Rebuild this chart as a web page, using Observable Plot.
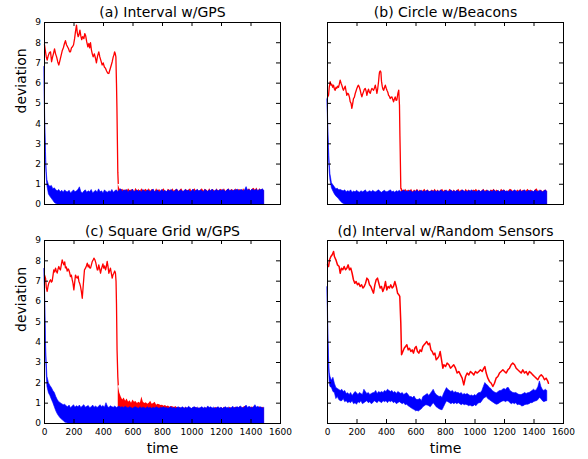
<!DOCTYPE html>
<html><head><meta charset="utf-8">
<script src="https://cdn.jsdelivr.net/npm/d3@7"></script>
<script src="https://cdn.jsdelivr.net/npm/@observablehq/plot@0.6"></script>
<style>
html,body{margin:0;padding:0;background:#fff;}
#chart{position:relative;width:588px;height:459px;overflow:hidden;background:#fff;}
#chart svg{position:absolute;}
</style></head><body><div id="chart"></div>
<script>
// ---------- tick labels & texts ----------
const X_TICKS = [0,200,400,600,800,1000,1200,1400,1600];
const Y_TICKS = [0,1,2,3,4,5,6,7,8,9];
const TITLES = ["(a) Interval w/GPS","(b) Circle w/Beacons","(c) Square Grid w/GPS","(d) Interval w/Random Sensors"];
const Y_LABEL = "deviation";
const X_LABEL = "time";

// ---------- sample grids (time) ----------
const BAND_T = [0,3,6,10,15,20].concat(d3.range(30,1500,10));   // 153 samples
const RED_BAND_T = d3.range(500,1500,10);                          // 100 samples

// ---------- (a) Interval w/GPS ----------
const A_RED = [[0,7.9],[7,7.55],[12,7.3],[18,7.14],[25,7.35],[33,7.5],[41,7.55],[48,7.06],[55,7.3],[62,7.5],[68,7.7],[75,7.45],[82,7.3],[90,7.05],[97,6.9],[104,7.1],[112,7.35],[120,7.6],[128,7.75],[135,7.95],[142,8.1],[149,7.9],[156,7.8],[163,7.7],[170,7.55],[176,7.55],[183,7.75],[190,7.8],[197,7.9],[204,8.2],[210,8.55],[217,8.87],[222,8.5],[228,8.3],[233,8.37],[240,8.62],[246,8.35],[252,8.15],[259,8.3],[267,8.2],[273,8.45],[279,8.35],[286,8.05],[294,7.8],[301,7.96],[306,7.75],[312,8.0],[318,7.65],[324,7.45],[330,7.3],[338,7.45],[346,7.22],[352,7.0],[360,7.35],[368,7.55],[375,7.3],[383,7.1],[391,6.9],[398,7.0],[406,6.8],[414,6.73],[421,6.6],[428,6.5],[436,6.48],[441,6.6],[447,6.75],[453,6.9],[459,7.06],[466,7.3],[471,7.4],[475,7.55],[480,7.45],[484,7.3],[488,6.0],[491,4.8],[494,3.2],[497,1.6],[500,1.04]];
const A_RED_BAND = [
0.99,0.78,0.7,0.76,0.66,0.74,0.64,0.78,0.68,0.72,
0.74,0.62,0.8,0.66,0.74,0.64,0.78,0.68,0.7,0.76,
0.64,0.78,0.66,0.74,0.7,0.62,0.78,0.66,0.74,0.64,
0.7,0.78,0.66,0.62,0.76,0.7,0.64,0.78,0.66,0.72,
0.76,0.64,0.7,0.78,0.66,0.62,0.76,0.68,0.7,0.78,
0.64,0.7,0.78,0.66,0.74,0.62,0.7,0.78,0.66,0.76,
0.7,0.64,0.78,0.66,0.74,0.7,0.62,0.78,0.66,0.72,
0.76,0.66,0.78,0.64,0.7,0.78,0.66,0.74,0.7,0.64,
0.78,0.66,0.74,0.7,0.64,0.78,0.66,0.76,0.7,0.78,
0.66,0.76,0.8,0.7,0.82,0.66,0.78,0.7,0.76,0.66];
const A_BLUE_HI = [6.8,5.0,3.8,2.6,1.6,1.2,
0.95,0.88,0.92,0.75,0.8,0.7,0.65,0.72,0.6,0.68,
0.58,0.7,0.62,0.6,0.68,0.55,0.62,0.7,0.6,0.65,
0.72,0.85,0.6,0.55,0.64,0.7,0.58,0.65,0.6,0.72,
0.55,0.62,0.68,0.58,0.75,0.6,0.65,0.55,0.7,0.62,
0.58,0.66,0.6,0.72,0.58,0.65,0.7,0.62,0.68,0.75,
0.6,0.7,0.65,0.72,0.58,0.68,0.62,0.74,0.6,0.66,
0.7,0.62,0.68,0.58,0.72,0.65,0.6,0.7,0.66,0.62,
0.68,0.74,0.6,0.65,0.7,0.58,0.66,0.72,0.62,0.68,
0.6,0.7,0.64,0.72,0.66,0.6,0.68,0.74,0.62,0.66,
0.7,0.6,0.68,0.72,0.64,0.7,0.6,0.66,0.74,0.62,
0.68,0.72,0.64,0.7,0.66,0.6,0.72,0.68,0.62,0.7,
0.66,0.74,0.62,0.68,0.72,0.64,0.7,0.66,0.72,0.68,
0.62,0.7,0.74,0.66,0.7,0.64,0.72,0.68,0.74,0.66,
0.7,0.72,0.64,0.7,0.86,0.68,0.72,0.66,0.74,0.7,
0.68,0.74,0.66,0.72,0.7,0.75,0.68];
const A_BLUE_LO = [6.8,4.4,3.2,2.2,1.3,0.9,
0.5,0.38,0.28,0.18,0.08,0.03,0,0,0,0,
0,0,0,0,0,0,0,0,0,0, 0,0,0,0,0,0,0,0,0,0, 0,0,0,0,0,0,0,0,0,0,
0,0,0,0,0,0,0,0,0,0, 0,0,0,0,0,0,0,0,0,0, 0,0,0,0,0,0,0,0,0,0,
0,0,0,0,0,0,0,0,0,0, 0,0,0,0,0,0,0,0,0,0, 0,0,0,0,0,0,0,0,0,0,
0,0,0,0,0,0,0,0,0,0, 0,0,0,0,0,0,0,0,0,0, 0,0,0,0,0,0,0,0,0,0,
0,0,0,0,0,0,0,0,0,0, 0,0,0,0,0,0,0];

// ---------- (b) Circle w/Beacons ----------
const B_RED = [[0,5.3],[7,5.4],[12,5.8],[18,6.07],[24,5.9],[29,5.95],[35,5.8],[41,5.9],[47,5.7],[52,5.65],[58,5.8],[63,5.75],[69,5.85],[75,5.8],[80,5.95],[86,6.15],[92,6.0],[97,5.9],[103,5.75],[108,5.65],[114,5.75],[120,5.85],[126,5.6],[131,5.4],[137,5.5],[143,5.45],[149,5.3],[154,5.08],[160,5.0],[165,4.75],[170,4.95],[176,5.24],[182,5.3],[188,5.49],[193,5.6],[199,5.74],[205,5.85],[210,5.9],[216,5.8],[222,5.65],[228,5.45],[233,5.32],[238,5.45],[244,5.57],[250,5.7],[256,5.74],[262,5.6],[267,5.4],[273,5.6],[278,5.7],[284,5.55],[290,5.5],[296,5.65],[301,5.74],[307,5.7],[312,5.65],[318,5.75],[324,5.9],[330,5.7],[335,5.5],[340,5.7],[346,6.07],[350,6.4],[353,6.56],[358,6.6],[362,6.55],[366,6.1],[371,5.85],[376,5.7],[381,5.65],[387,5.8],[392,5.9],[398,5.75],[403,5.65],[409,5.55],[414,5.4],[420,5.35],[425,5.24],[431,5.3],[437,5.32],[442,5.2],[448,5.08],[453,5.2],[459,5.32],[465,5.15],[470,5.16],[474,5.35],[477,5.49],[483,5.65],[488,4.9],[491,3.4],[493,2.6],[497,0.8],[500,0.78]];
const B_RED_BAND = [
0.8,0.72,0.66,0.76,0.64,0.72,0.66,0.76,0.62,0.72,
0.66,0.76,0.64,0.72,0.62,0.68,0.76,0.64,0.72,0.66,
0.62,0.72,0.66,0.76,0.64,0.72,0.62,0.68,0.76,0.64,
0.72,0.66,0.62,0.76,0.68,0.64,0.72,0.62,0.68,0.76,
0.64,0.72,0.68,0.62,0.76,0.66,0.72,0.64,0.62,0.72,
0.68,0.76,0.64,0.72,0.62,0.68,0.76,0.64,0.72,0.66,
0.62,0.72,0.68,0.76,0.64,0.72,0.66,0.62,0.76,0.68,
0.72,0.64,0.62,0.68,0.76,0.72,0.64,0.68,0.62,0.72,
0.66,0.76,0.64,0.72,0.62,0.68,0.76,0.64,0.72,0.66,
0.62,0.72,0.78,0.66,0.64,0.72,0.62,0.68,0.72,0.64];
const B_BLUE_HI = [5.2,4.6,3.6,2.8,2.0,1.5,
1.05,0.95,0.85,0.75,0.78,0.7,0.72,0.68,0.65,0.7,
0.6,0.66,0.62,0.7,0.58,0.64,0.6,0.68,0.62,0.58,
0.66,0.6,0.64,0.7,0.58,0.62,0.66,0.6,0.68,0.62,
0.6,0.66,0.7,0.62,0.58,0.64,0.68,0.6,0.62,0.66,
0.7,0.6,0.64,0.58,0.66,0.62,0.68,0.6,0.64,0.7,
0.62,0.66,0.6,0.68,0.64,0.58,0.66,0.62,0.7,0.6,
0.64,0.68,0.6,0.66,0.62,0.7,0.6,0.64,0.66,0.62,
0.68,0.6,0.66,0.62,0.7,0.64,0.6,0.66,0.68,0.62,
0.64,0.7,0.6,0.66,0.62,0.68,0.64,0.6,0.66,0.7,
0.62,0.66,0.6,0.68,0.64,0.7,0.62,0.66,0.6,0.64,
0.68,0.62,0.66,0.7,0.6,0.64,0.68,0.62,0.66,0.6,
0.7,0.64,0.62,0.68,0.6,0.66,0.64,0.7,0.62,0.66,
0.6,0.68,0.64,0.62,0.7,0.66,0.6,0.64,0.68,0.62,
0.66,0.7,0.6,0.64,0.68,0.62,0.66,0.6,0.7,0.64,
0.62,0.68,0.66,0.6,0.64,0.7,0.62];
const B_BLUE_LO = [5.2,4.2,3.2,2.4,1.6,1.2,
0.8,0.64,0.5,0.4,0.32,0.25,0.15,0.08,0.03,0,
0,0,0,0,0,0,0,0,0,0, 0,0,0,0,0,0,0,0,0,0, 0,0,0,0,0,0,0,0,0,0,
0,0,0,0,0,0,0,0,0,0, 0,0,0,0,0,0,0,0,0,0, 0,0,0,0,0,0,0,0,0,0,
0,0,0,0,0,0,0,0,0,0, 0,0,0,0,0,0,0,0,0,0, 0,0,0,0,0,0,0,0,0,0,
0,0,0,0,0,0,0,0,0,0, 0,0,0,0,0,0,0,0,0,0, 0,0,0,0,0,0,0,0,0,0,
0,0,0,0,0,0,0,0,0,0, 0,0,0,0,0,0,0];

// ---------- (c) Square Grid w/GPS ----------
const C_RED = [[0,7.3],[7,7.15],[12,6.7],[18,6.5],[24,6.75],[29,6.9],[35,7.0],[41,7.07],[47,6.95],[52,7.0],[58,7.3],[63,7.56],[69,7.45],[75,7.64],[80,7.5],[86,7.4],[92,7.6],[97,7.72],[103,7.6],[108,7.55],[114,7.8],[120,8.05],[126,7.9],[131,7.8],[137,7.95],[142,7.65],[148,7.7],[154,7.5],[160,7.6],[165,7.55],[171,7.4],[176,7.23],[182,7.3],[188,7.07],[193,6.9],[199,6.57],[205,6.95],[210,7.3],[216,7.2],[222,7.15],[228,7.25],[233,7.0],[238,6.9],[244,6.74],[250,6.5],[256,6.16],[262,6.74],[267,7.2],[271,7.56],[278,7.64],[284,7.75],[290,7.89],[296,7.7],[301,7.8],[306,7.65],[312,7.64],[318,7.8],[324,7.97],[330,8.05],[335,8.13],[342,8.05],[348,7.9],[353,7.72],[358,7.55],[362,7.56],[368,7.8],[374,7.6],[380,7.39],[386,7.6],[391,7.72],[396,7.85],[402,7.64],[408,7.75],[414,7.56],[419,7.7],[425,7.97],[431,7.7],[436,7.39],[441,7.5],[447,7.64],[453,7.4],[459,7.15],[464,7.3],[470,7.39],[476,7.5],[481,7.4],[485,7.0],[488,5.9],[492,3.6],[497,2.3],[500,1.9]];
const C_RED_BAND = [
1.9,1.5,1.3,1.15,1.25,1.1,1.2,1.05,1.12,1.0,
1.15,1.05,1.08,0.98,1.05,1.0,1.3,1.05,0.98,1.02,
0.95,1.0,1.1,0.95,0.98,1.05,0.9,0.95,0.92,0.88,
0.9,0.85,0.88,0.82,0.86,0.8,0.84,0.82,0.78,0.84,
0.78,0.72,0.8,0.7,0.76,0.74,0.8,0.7,0.78,0.72,
0.7,0.78,0.74,0.8,0.7,0.76,0.72,0.8,0.7,0.78,
0.74,0.8,0.7,0.76,0.72,0.7,0.8,0.74,0.78,0.7,
0.78,0.72,0.8,0.7,0.76,0.74,0.8,0.72,0.7,0.78,
0.8,0.72,0.78,0.82,0.72,0.8,0.84,0.76,0.72,0.8,
0.76,0.82,0.72,0.8,0.76,0.72,0.82,0.76,0.8,0.72];
const C_BLUE_HI = [7.6,6.9,5.6,4.0,3.0,2.3,
1.98,1.85,1.74,1.6,1.5,1.3,1.15,1.05,1.0,0.95,
0.9,0.92,0.85,0.8,0.88,0.75,0.82,0.9,0.78,0.85,
0.8,0.88,0.76,0.84,0.9,0.78,0.82,0.86,0.75,0.8,
0.88,0.78,0.84,0.76,0.82,0.9,0.8,0.86,0.78,1.0,
0.82,0.76,0.85,0.8,0.78,0.84,0.76,0.8,0.82,0.78,
0.8,0.76,0.82,0.78,0.74,0.8,0.76,0.72,0.78,0.8,
0.76,0.72,0.8,0.74,0.78,0.76,0.72,0.8,0.74,0.78,
0.72,0.78,0.74,0.8,0.76,0.72,0.78,0.75,0.8,0.74,
0.78,0.72,0.76,0.8,0.74,0.78,0.72,0.76,0.8,0.74,
0.76,0.8,0.72,0.78,0.74,0.82,0.76,0.72,0.78,0.8,
0.74,0.78,0.72,0.76,0.8,0.74,0.78,0.72,0.84,0.76,
0.8,0.74,0.78,0.72,0.76,0.8,0.74,0.78,0.72,0.76,
0.8,0.74,0.78,0.72,0.76,0.82,0.74,0.78,0.8,0.76,
0.84,0.78,0.74,0.8,0.88,0.76,0.82,0.78,0.74,0.8,
0.9,0.78,0.82,0.76,0.8,0.74,0.78];
const C_BLUE_LO = [7.6,6.4,5.0,3.5,2.4,1.8,
1.49,1.35,1.17,1.0,0.8,0.6,0.45,0.34,0.25,0.18,
0.12,0.05,0.02,0,0,0,0,0,0,0,
0,0,0,0,0,0,0,0,0,0, 0,0,0,0,0,0,0,0,0,0, 0,0,0,0,0,0,0,0,0,0,
0,0,0,0,0,0,0,0,0,0, 0,0,0,0,0,0,0,0,0,0, 0,0,0,0,0,0,0,0,0,0,
0,0,0,0,0,0,0,0,0,0, 0,0,0,0,0,0,0,0,0,0, 0,0,0,0,0,0,0,0,0,0,
0,0,0,0,0,0,0,0,0,0, 0,0,0,0,0,0,0,0,0,0, 0,0,0,0,0,0,0,0,0,0,
0,0,0,0,0,0,0];

// ---------- (d) Interval w/Random Sensors ----------
const D_RED = [[0,7.8],[7,7.72],[14,8.05],[23,8.21],[32,8.3],[41,8.46],[47,8.21],[57,8.05],[68,7.8],[79,7.72],[86,7.39],[95,7.64],[104,7.56],[113,7.72],[122,7.56],[131,7.64],[140,7.8],[149,7.56],[158,7.64],[167,7.39],[176,7.07],[185,6.9],[194,6.98],[203,6.82],[212,6.9],[221,6.74],[231,6.82],[240,6.66],[249,6.74],[258,6.9],[267,7.15],[276,7.07],[285,6.82],[294,6.74],[303,6.57],[312,6.41],[321,6.82],[330,7.07],[339,7.15],[348,6.9],[357,6.66],[366,6.74],[375,6.49],[384,6.66],[393,6.98],[402,6.57],[411,6.74],[420,6.66],[429,6.82],[438,6.66],[447,6.74],[457,6.98],[466,6.74],[475,6.41],[484,6.33],[490,6.25],[497,4.93],[502,3.38],[511,3.54],[520,3.7],[529,3.79],[538,3.87],[547,3.62],[556,3.7],[565,3.54],[574,3.62],[583,3.46],[592,3.7],[601,3.79],[610,3.54],[619,3.46],[628,3.62],[637,3.54],[646,3.79],[655,3.87],[664,3.95],[673,4.03],[683,3.87],[692,3.95],[701,3.62],[710,3.54],[719,3.38],[728,3.46],[737,3.13],[746,3.21],[755,3.3],[764,3.54],[773,3.13],[782,2.72],[789,2.89],[800,2.8],[811,2.97],[823,2.89],[834,2.72],[845,2.8],[856,2.89],[868,2.72],[879,2.48],[890,2.56],[902,2.39],[913,2.23],[924,1.9],[936,2.31],[947,2.48],[958,2.39],[969,2.56],[981,2.48],[992,2.39],[1003,2.56],[1015,2.48],[1026,2.56],[1037,2.64],[1049,2.56],[1060,2.72],[1067,2.8],[1076,2.48],[1087,2.23],[1098,2.07],[1110,1.98],[1121,1.82],[1132,1.98],[1143,2.23],[1155,2.31],[1166,2.48],[1177,2.56],[1189,2.64],[1200,2.56],[1211,2.48],[1223,2.64],[1234,2.72],[1245,2.89],[1256,2.97],[1268,2.89],[1279,2.72],[1290,2.64],[1302,2.56],[1313,2.48],[1324,2.64],[1336,2.48],[1347,2.56],[1358,2.39],[1369,2.56],[1381,2.48],[1392,2.39],[1403,2.31],[1415,2.23],[1426,2.15],[1437,2.31],[1449,2.39],[1460,2.31],[1471,2.15],[1482,2.23],[1494,2.07],[1498,1.98]];
const D_BLUE_HI = [6.7,5.8,4.4,3.3,2.5,2.3,
2.1,2.25,1.95,1.75,1.7,1.65,1.6,1.66,1.55,1.6,
1.45,1.49,1.4,1.5,1.35,1.45,1.55,1.49,1.4,1.5,
1.45,1.4,1.66,1.55,1.45,1.5,1.4,1.45,1.49,1.5,
1.6,1.45,1.55,1.5,1.55,1.5,1.6,1.55,1.66,1.6,
1.55,1.6,1.5,1.55,1.45,1.55,1.5,1.45,1.5,1.4,
1.45,1.49,1.4,1.3,1.3,1.25,1.33,1.2,1.15,1.17,
1.2,1.1,1.3,1.35,1.4,1.45,1.35,1.45,1.55,1.66,
1.5,1.4,1.35,1.3,1.33,1.25,1.45,1.6,1.74,1.65,
1.6,1.55,1.6,1.5,1.55,1.5,1.5,1.45,1.5,1.4,
1.45,1.41,1.45,1.4,1.35,1.38,1.33,1.4,1.35,1.45,
1.5,1.5,1.6,1.8,1.99,1.9,1.85,1.75,1.7,1.6,
1.55,1.5,1.49,1.55,1.6,1.6,1.66,1.7,1.65,1.74,
1.74,1.6,1.55,1.5,1.49,1.5,1.45,1.41,1.4,1.41,
1.45,1.5,1.45,1.49,1.5,1.55,1.6,1.66,1.6,1.65,
1.8,2.07,1.8,1.65,1.6,1.66,1.6];
const D_BLUE_LO = [6.7,5.2,3.8,2.7,2.0,1.8,
1.75,1.55,1.5,1.2,1.3,1.15,1.1,1.1,1.2,1.05,
1.1,1.0,1.05,1.0,1.1,0.95,1.0,0.92,1.05,1.0,
1.1,0.95,1.0,1.05,1.1,1.0,1.05,0.95,1.0,1.1,
1.05,1.0,1.1,1.05,1.0,1.1,1.05,1.1,1.0,1.1,
1.05,1.1,1.0,1.05,0.95,1.0,1.05,1.0,0.95,1.0,
0.9,0.92,0.85,0.8,0.75,0.7,0.67,0.6,0.62,0.59,
0.65,0.7,0.8,0.85,0.9,0.88,0.85,0.8,0.9,1.0,
0.9,0.8,0.75,0.7,0.67,0.65,0.8,0.95,1.08,1.05,
1.0,0.95,1.0,0.95,1.0,0.95,1.0,0.95,0.9,0.95,
0.9,0.92,0.9,0.85,0.88,0.84,0.84,0.9,0.85,0.95,
1.0,1.0,1.1,1.2,1.26,1.3,1.2,1.15,1.1,1.05,
1.0,0.95,0.92,0.95,1.0,1.05,1.08,1.1,1.05,1.1,
1.08,1.0,0.95,1.0,0.95,1.0,0.9,0.92,0.9,0.84,
0.85,0.9,0.92,0.92,0.95,1.0,1.0,1.05,1.08,1.1,
1.15,1.26,1.2,1.1,1.05,1.08,1.1];

// ---------- layout ----------
const RED = "#ff0000", BLUE = "#0000ff";
const FONT = "DejaVu Sans";
const panels = [
  {title: TITLES[0], red: A_RED, redBand: A_RED_BAND, lo: A_BLUE_LO, hi: A_BLUE_HI, left: 0,   top: 0,   fh: 182, showY: true,  showX: false, tdy: -9.5, rw: 1.3},
  {title: TITLES[1], red: B_RED, redBand: B_RED_BAND, lo: B_BLUE_LO, hi: B_BLUE_HI, left: 283, top: 0,   fh: 182, showY: false, showX: false, tdy: -9.5, rw: 1.3},
  {title: TITLES[2], red: C_RED, redBand: C_RED_BAND, lo: C_BLUE_LO, hi: C_BLUE_HI, left: 0,   top: 218, fh: 183, showY: true,  showX: true,  tdy: -8.5, rw: 1.3},
  {title: TITLES[3], red: D_RED, redBand: null,       lo: D_BLUE_LO, hi: D_BLUE_HI, left: 283, top: 218, fh: 183, showY: false, showX: true,  tdy: -8.5, rw: 1.5}
];

const chart = document.getElementById("chart");
for (const p of panels) {
  const FW = 236, ml = 44, mr = 14, mt = 22, mb = p.showX ? 36 : 8;
  const band = BAND_T.map((t, i) => ({t, lo: p.lo[i], hi: p.hi[i]}));
  const marks = [];
  if (p.redBand) {
    const rb = RED_BAND_T.map((t, i) => ({t, hi: p.redBand[i]}));
    marks.push(Plot.areaY(rb, {x: "t", y: "hi", fill: RED}));
  }
  marks.push(Plot.line(p.red, {x: d => d[0], y: d => d[1], stroke: RED, strokeWidth: p.rw}));
  marks.push(Plot.areaY(band, {x: "t", y1: "lo", y2: "hi", fill: BLUE, stroke: BLUE, strokeWidth: 0.6}));
  // inward ticks on all four sides
  marks.push(Plot.tickY(Y_TICKS, {y: d => d, stroke: "#000", insetRight: FW - 4}));
  marks.push(Plot.tickY(Y_TICKS, {y: d => d, stroke: "#000", insetLeft: FW - 4}));
  marks.push(Plot.tickX(X_TICKS, {x: d => d, stroke: "#000", insetTop: p.fh - 4}));
  marks.push(Plot.tickX(X_TICKS, {x: d => d, stroke: "#000", insetBottom: p.fh - 4}));
  if (p.showY) {
    marks.push(Plot.axisY(Y_TICKS, {anchor: "left", tickSize: 0, tickPadding: 3.5, fontSize: 9, label: null, tickFormat: d => `${d}`}));
    marks.push(Plot.text([Y_LABEL], {text: d => d, frameAnchor: "left", lineAnchor: "middle", rotate: -90, dx: -22.5, fontSize: 14, fill: "#000"}));
  }
  if (p.showX) {
    marks.push(Plot.axisX(X_TICKS, {anchor: "bottom", tickSize: 0, tickPadding: 5.5, fontSize: 9, label: null, tickFormat: d => `${d}`}));
    marks.push(Plot.text([X_LABEL], {text: d => d, frameAnchor: "bottom", lineAnchor: "middle", dy: 25.5, fontSize: 14, fill: "#000"}));
  }
  marks.push(Plot.text([p.title], {text: d => d, frameAnchor: "top", lineAnchor: "middle", dy: p.tdy, fontSize: 14, fill: "#000"}));
  marks.push(Plot.frame({stroke: "#000", strokeWidth: 1}));

  const svg = Plot.plot({
    width: ml + FW + mr,
    height: mt + p.fh + mb,
    marginLeft: ml, marginRight: mr, marginTop: mt, marginBottom: mb,
    x: {domain: [0, 1600], axis: null},
    y: {domain: [0, 9], axis: null},
    style: {fontFamily: FONT, fontSize: "9px", color: "#000", background: "transparent", overflow: "visible"},
    marks
  });
  svg.style.left = p.left + "px";
  svg.style.top = p.top + "px";
  svg.style.maxWidth = "none";
  chart.appendChild(svg);
}
</script>
</body></html>
